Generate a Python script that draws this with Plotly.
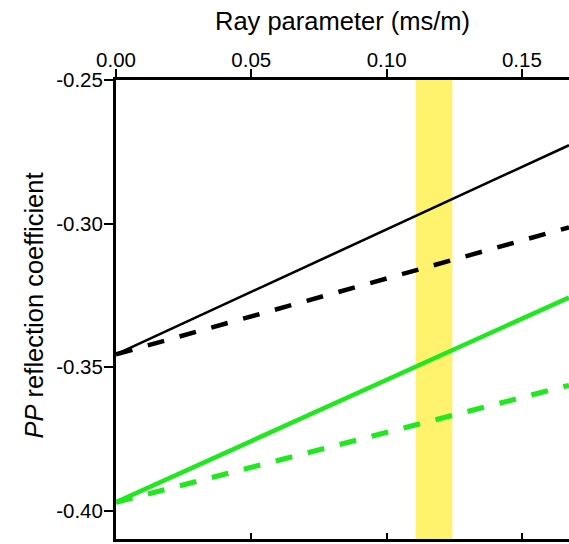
import plotly.graph_objects as go

# Data
ray_p = [0.0, 0.1674]                      # ray parameter (ms/m)
black_solid = [-0.3455, -0.2727]
black_dashed = [-0.3455, -0.3013]
green_solid = [-0.3970, -0.3257]
green_dashed = [-0.3970, -0.3563]
band_p = [0.1107, 0.1243]                  # highlighted ray-parameter window

x_range = [0.0, 0.1674]
y_range = [-0.4098, -0.25]
x_ticks = [0.0, 0.05, 0.10, 0.15]
x_ticktext = ["0.00", "0.05", "0.10", "0.15"]
y_ticks = [-0.25, -0.30, -0.35, -0.40]
y_ticktext = ["-0.25", "-0.30", "-0.35", "-0.40"]

FONT = "Liberation Sans, Arial, Helvetica, sans-serif"
GREEN = "#1FE81F"

fig = go.Figure()
fig.add_trace(go.Scatter(x=ray_p, y=black_solid, mode="lines",
                         line=dict(color="black", width=2.6), showlegend=False))
fig.add_trace(go.Scatter(x=ray_p, y=black_dashed, mode="lines",
                         line=dict(color="black", width=4.5, dash="17px,16px"), showlegend=False))
fig.add_trace(go.Scatter(x=ray_p, y=green_solid, mode="lines",
                         line=dict(color=GREEN, width=4.5), showlegend=False))
fig.add_trace(go.Scatter(x=ray_p, y=green_dashed, mode="lines",
                         line=dict(color=GREEN, width=5, dash="17px,16px"), showlegend=False))
# invisible trace to carry the bottom axis
fig.add_trace(go.Scatter(x=ray_p, y=green_dashed, xaxis="x2", mode="lines",
                         line=dict(color="rgba(0,0,0,0)", width=0), hoverinfo="skip",
                         showlegend=False))

fig.add_shape(type="rect", xref="x", yref="paper", x0=band_p[0], x1=band_p[1],
              y0=0, y1=1, fillcolor="#FFF36E", line=dict(width=0), layer="below")

axis_common = dict(showgrid=False, zeroline=False, showline=True, linecolor="black",
                   linewidth=3, tickcolor="black", tickwidth=1.5,
                   tickfont=dict(family=FONT, size=20.5, color="black"))

fig.update_layout(
    width=569, height=544,
    margin=dict(l=116, r=0, t=80, b=5),
    paper_bgcolor="white", plot_bgcolor="white",
    xaxis=dict(range=x_range, side="top", tickvals=x_ticks, ticktext=x_ticktext,
               ticks="outside", ticklen=8, ticklabelstandoff=-6, **axis_common),
    xaxis2=dict(range=x_range, side="bottom", overlaying="x", anchor="y",
                tickvals=x_ticks, ticks="inside", ticklen=6, showticklabels=False,
                **axis_common),
    yaxis=dict(range=y_range, tickvals=y_ticks, ticktext=y_ticktext,
               ticks="outside", ticklen=9, ticklabelstandoff=-3, **axis_common),
    annotations=[
        dict(text="Ray parameter (ms/m)", xref="paper", yref="paper",
             x=0.501, y=(539 - 22) / 458, showarrow=False, xanchor="center", yanchor="middle",
             font=dict(family=FONT, size=25.5, color="black")),
        dict(text="<i>PP</i> reflection coefficient", xref="paper", yref="paper",
             x=(34 - 116) / 453, y=(539 - 306) / 458, textangle=-90, showarrow=False,
             xanchor="center", yanchor="middle",
             font=dict(family=FONT, size=25.5, color="black")),
    ],
)

fig.write_html("out.html")
